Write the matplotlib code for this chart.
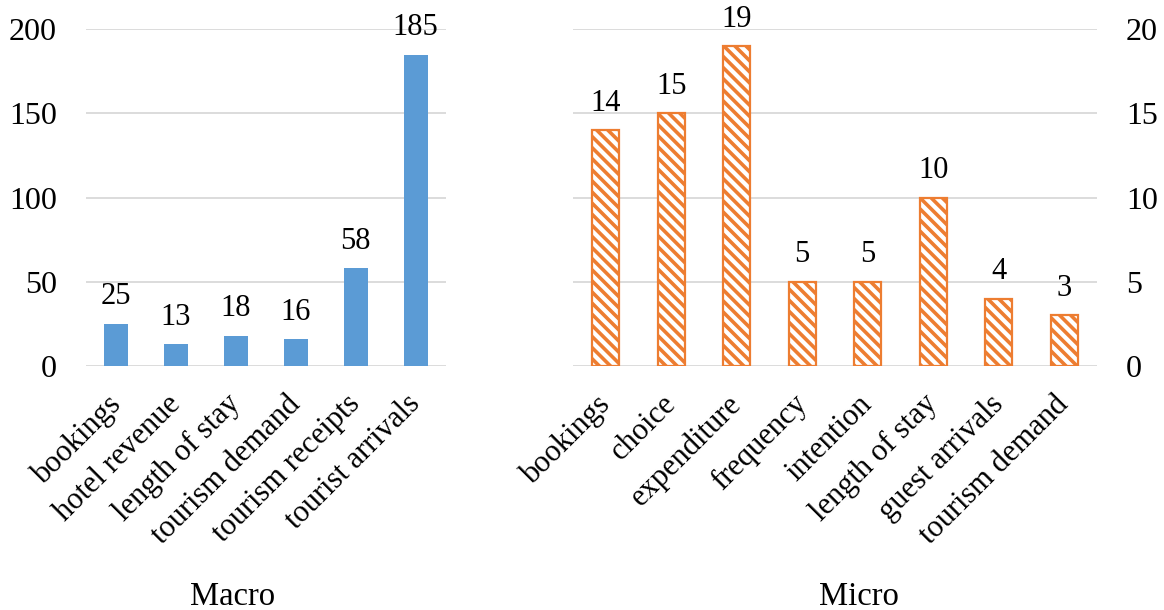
import matplotlib.pyplot as plt
import matplotlib.transforms as mtransforms

plt.rcParams["font.family"] = ["Liberation Serif", "DejaVu Serif"]
plt.rcParams["hatch.linewidth"] = 2.6

macro_labels = ["bookings", "hotel revenue", "length of stay", "tourism demand",
                "tourism receipts", "tourist arrivals"]
macro_values = [25, 13, 18, 16, 58, 185]

micro_labels = ["bookings", "choice", "expenditure", "frequency", "intention",
                "length of stay", "guest arrivals", "tourism demand"]
micro_values = [14, 15, 19, 5, 5, 10, 4, 3]

blue = "#5B9BD5"
orange = "#ED7D31"
grid = "#D9D9D9"

fig = plt.figure(figsize=(11.64, 6.10), dpi=100)
ax1 = fig.add_axes([0.0739, 0.40, 0.309, 0.552])
ax2 = fig.add_axes([0.4923, 0.40, 0.450, 0.552])


def style(ax, ymax, step, labels):
    ax.set_ylim(0, ymax)
    ax.set_yticks(range(0, ymax + 1, step))
    ax.grid(axis="y", color=grid, linewidth=1.3)
    ax.set_axisbelow(True)
    for s in ax.spines.values():
        s.set_visible(False)
    ax.tick_params(axis="y", length=0, labelsize=23, pad=21)
    ax.tick_params(axis="x", length=0, labelsize=22, pad=17)
    ax.set_xlim(-0.5, len(labels) - 0.5)
    ax.set_xticks(range(len(labels)))
    ax.set_xticklabels(labels, rotation=45, ha="right", rotation_mode="anchor")
    # nudge the slanted category labels a little to the left
    shift = mtransforms.ScaledTranslation(-10 / 100, 0, fig.dpi_scale_trans)
    for t in ax.get_xticklabels():
        t.set_transform(t.get_transform() + shift)


def label_bars(ax, bars, values):
    for b, v in zip(bars, values):
        ax.annotate(str(v), (b.get_x() + b.get_width() / 2, v), xytext=(0, 9),
                    textcoords="offset points", ha="center", va="bottom",
                    fontsize=22)


bars1 = ax1.bar(range(len(macro_values)), macro_values, width=0.4, color=blue)
style(ax1, 200, 50, macro_labels)
label_bars(ax1, bars1, macro_values)

bars2 = ax2.bar(range(len(micro_values)), micro_values, width=0.41,
                facecolor="white", edgecolor=orange, linewidth=1.6,
                hatch="\\\\\\")
style(ax2, 20, 5, micro_labels)
ax2.yaxis.tick_right()
label_bars(ax2, bars2, micro_values)

fig.text(0.2, 0.008, "Macro", ha="center", va="baseline", fontsize=23.5)
fig.text(0.7375, 0.008, "Micro", ha="center", va="baseline", fontsize=23.5)

fig.savefig("out.png", dpi=100)
